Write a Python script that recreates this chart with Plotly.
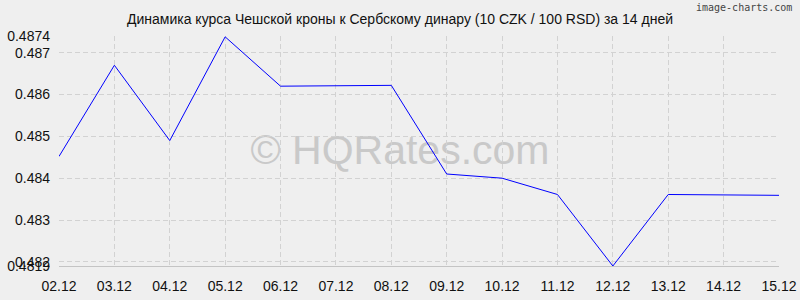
import plotly.graph_objects as go

dates = ["02.12", "03.12", "04.12", "05.12", "06.12", "07.12", "08.12",
         "09.12", "10.12", "11.12", "12.12", "13.12", "14.12", "15.12"]
rates = [0.48452, 0.48670, 0.48490, 0.48738, 0.48620, 0.48621, 0.48622,
         0.48410, 0.48400, 0.48361, 0.48190, 0.48361, 0.48360, 0.48359]
y_ticks = [0.4819, 0.482, 0.483, 0.484, 0.485, 0.486, 0.487, 0.4874]
y_tick_text = ["0.4819", "0.482", "0.483", "0.484", "0.485", "0.486", "0.487", "0.4874"]
title_text = "Динамика курса Чешской кроны к Сербскому динару (10 CZK / 100 RSD) за 14 дней"

fig = go.Figure()
fig.add_trace(go.Scatter(
    x=list(range(len(dates))), y=rates, mode="lines",
    line=dict(color="#0000ff", width=1), hoverinfo="skip", showlegend=False,
))

bg = "#efefef"
grid = "#d2d2d2"
fig.update_layout(
    width=800, height=300,
    margin=dict(l=59, r=21, t=36, b=34, autoexpand=False),
    paper_bgcolor=bg, plot_bgcolor=bg,
    font=dict(family="Liberation Sans, Arial", size=14, color="#111111"),
    showlegend=False,
    title=dict(text=title_text, x=0.5, xanchor="center", y=1 - 19 / 300, yanchor="middle",
               font=dict(size=14, color="#111111"), automargin=False),
)
fig.update_xaxes(
    range=[0, len(dates) - 1], automargin=False,
    tickmode="array", tickvals=list(range(len(dates))), ticktext=dates,
    showgrid=True, gridcolor=grid, griddash="5px,3px", gridwidth=1,
    zeroline=False, showline=True, linecolor="#c4c4c4", linewidth=1,
    ticks="", ticklabelstandoff=7, mirror=False,
    tickfont=dict(size=14, color="#111111"),
)
fig.update_yaxes(
    range=[y_ticks[0], y_ticks[-1]], automargin=False,
    tickmode="array", tickvals=y_ticks, ticktext=y_tick_text,
    showgrid=True, gridcolor=grid, griddash="5px,3px", gridwidth=1,
    zeroline=False, showline=False,
    ticks="", ticklabelstandoff=8,
    tickfont=dict(size=14, color="#111111"),
)
wx = (400 - 59) / 720
wy = (266 - 146) / 230
fig.add_shape(
    type="rect", xref="paper", yref="paper", x0=wx - 0.3, x1=wx + 0.3, y0=wy - 0.2, y1=wy + 0.2,
    line=dict(width=0), fillcolor="rgba(0,0,0,0)", layer="between",
    label=dict(text="© HQRates.com", font=dict(size=41, color="#c9c9c9",
               family="Liberation Sans, Arial"), textposition="middle center"),
)
fig.add_annotation(
    text="image-charts.com", xref="paper", yref="paper",
    x=(794 - 59) / 720, y=(266 - 7) / 230, xanchor="right", yanchor="middle",
    showarrow=False, font=dict(family="DejaVu Sans Mono", size=10, color="#444444"),
)
fig.write_html("out.html")
